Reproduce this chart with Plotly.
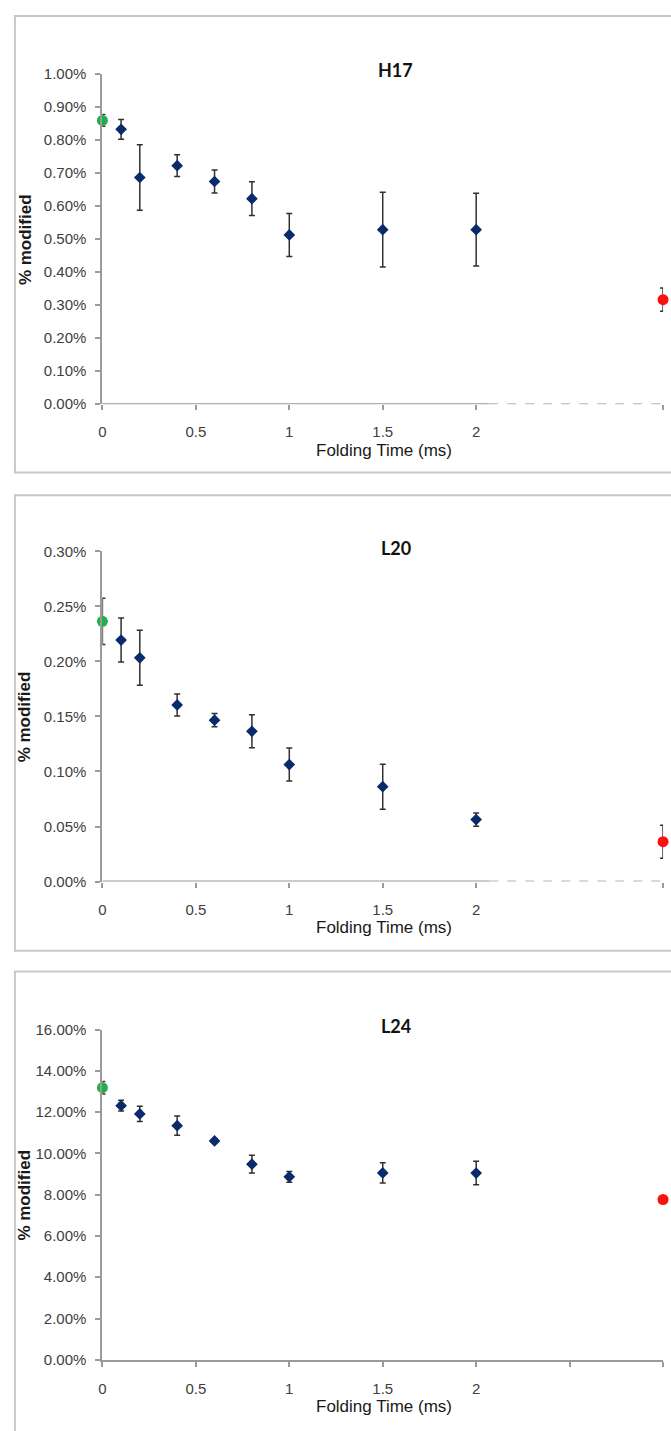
import plotly.graph_objects as go

# ---------------- data ----------------
panel_names = ["H17", "L20", "L24"]
fold_times = [0.1, 0.2, 0.4, 0.6, 0.8, 1.0, 1.5, 2.0]
start_time = [0]
end_time = [3]  # plotted position of the final (native) point

h17_vals = [0.833, 0.687, 0.723, 0.675, 0.623, 0.513, 0.529, 0.529]
h17_err = [0.030, 0.099, 0.033, 0.035, 0.051, 0.065, 0.113, 0.110]
h17_start = [0.860]
h17_start_err = [0.018]
h17_end = [0.317]
h17_end_err = [0.035]

l20_vals = [0.2195, 0.2033, 0.1605, 0.1467, 0.1365, 0.1063, 0.0862, 0.0563]
l20_err = [0.020, 0.025, 0.010, 0.006, 0.015, 0.015, 0.0205, 0.006]
l20_start = [0.2365]
l20_start_err = [0.021]
l20_end = [0.0362]
l20_end_err = [0.015]

l24_vals = [12.32, 11.92, 11.35, 10.61, 9.48, 8.87, 9.06, 9.05]
l24_err = [0.26, 0.37, 0.47, 0.10, 0.43, 0.26, 0.49, 0.57]
l24_start = [13.19]
l24_start_err = [0.30]
l24_end = [7.77]
l24_end_err = [0.08]

y_max = [1.0, 0.30, 16.0]
y_step = [0.1, 0.05, 2.0]
x_tickvals = [0, 0.5, 1, 1.5, 2, 2.5, 3]
x_ticktext = ["0", "0.5", "1", "1.5", "2", "", ""]

series = [
    (h17_vals, h17_err, h17_start, h17_start_err, h17_end, h17_end_err),
    (l20_vals, l20_err, l20_start, l20_start_err, l20_end, l20_end_err),
    (l24_vals, l24_err, l24_start, l24_start_err, l24_end, l24_end_err),
]

# ---------------- layout geometry (pixels) ----------------
W, H = 671, 1431
plot_left, plot_right = 99, 663
panels_px = [  # (plot top, plot bottom, border top, border bottom)
    (66, 400, 7, 469),
    (549, 883, 492, 953),
    (1033, 1367, 974, 1440),
]


def px_x(p):
    return p / W


def px_y(p):
    return 1 - p / H


AXIS_GRAY = "#9a9a9a"
TICK_FONT = dict(family="Liberation Sans, Arial", size=15, color="#404040")
ERR_COLOR = "#303030"

fig = go.Figure()
layout = dict(
    width=W, height=H, margin=dict(l=0, r=0, t=0, b=0),
    paper_bgcolor="white", plot_bgcolor="white", showlegend=False,
    shapes=[], annotations=[],
)

for i, (vals, err, s, se, e, ee) in enumerate(series):
    xa = "x" if i == 0 else f"x{i+1}"
    ya = "y" if i == 0 else f"y{i+1}"
    xkey = "xaxis" if i == 0 else f"xaxis{i+1}"
    ykey = "yaxis" if i == 0 else f"yaxis{i+1}"
    top, bot, btop, bbot = panels_px[i]

    err_style = dict(type="data", visible=True, color=ERR_COLOR, thickness=1.5, width=3)
    fig.add_trace(go.Scatter(
        x=fold_times, y=vals, mode="markers", xaxis=xa, yaxis=ya,
        marker=dict(symbol="diamond", size=9, color="#0a2a6b"),
        error_y=dict(array=err, **err_style), cliponaxis=False))
    fig.add_trace(go.Scatter(
        x=start_time, y=s, mode="markers", xaxis=xa, yaxis=ya,
        marker=dict(symbol="circle", size=11, color="#1fb04a"),
        error_y=dict(array=se, **err_style), cliponaxis=False))
    fig.add_trace(go.Scatter(
        x=end_time, y=e, mode="markers", xaxis=xa, yaxis=ya,
        marker=dict(symbol="circle", size=11, color="#ff1010"),
        error_y=dict(array=ee, **err_style), cliponaxis=False))

    ntick = int(round(y_max[i] / y_step[i]))
    yticks = [k * y_step[i] for k in range(ntick + 1)]
    ytext = [f"{v:.2f}%" for v in yticks]

    full_line = (i == 2)
    layout[xkey] = dict(
        domain=[px_x(plot_left), px_x(plot_right)], range=[0, 3],
        anchor=ya, showgrid=False, zeroline=False,
        showline=full_line, linecolor=AXIS_GRAY, linewidth=2,
        tickmode="array",
        tickvals=x_tickvals if full_line else x_tickvals[:5] + [3],
        ticktext=x_ticktext if full_line else x_ticktext[:5] + [""],
        ticks="outside", ticklen=5, tickcolor=AXIS_GRAY, tickwidth=1.5,
        tickfont=TICK_FONT, ticklabelstandoff=9, fixedrange=True,
    )
    layout[ykey] = dict(
        domain=[px_y(bot), px_y(top)], range=[0, y_max[i]],
        anchor=xa, showgrid=False, zeroline=False,
        showline=True, linecolor=AXIS_GRAY, linewidth=2,
        tickmode="array", tickvals=yticks, ticktext=ytext,
        ticks="outside", ticklen=5, tickcolor=AXIS_GRAY, tickwidth=1.5,
        tickfont=TICK_FONT, ticklabelstandoff=6, fixedrange=True,
    )

    if not full_line:
        layout["shapes"].append(dict(
            type="line", xref=xa, yref=ya, x0=0, x1=2.07, y0=0, y1=0,
            line=dict(color=AXIS_GRAY, width=2)))
        layout["shapes"].append(dict(
            type="line", xref=xa, yref=ya, x0=2.07, x1=3, y0=0, y1=0,
            line=dict(color="#b5b5b5", width=2, dash="dash")))

    # panel border
    layout["shapes"].append(dict(
        type="rect", xref="paper", yref="paper",
        x0=px_x(11), x1=px_x(W + 10), y0=px_y(bbot), y1=px_y(btop),
        line=dict(color="#c8c8c8", width=2), fillcolor="rgba(0,0,0,0)", layer="below"))

    # panel title
    layout["annotations"].append(dict(
        text=f"<b>{panel_names[i]}</b>", xref="paper", yref="paper",
        x=px_x(394), y=px_y(top - 4), xanchor="center", yanchor="middle",
        showarrow=False, font=dict(family="Lato, Open Sans", size=18, color="#111111")))
    # x axis title
    layout["annotations"].append(dict(
        text="Folding Time (ms)", xref="paper", yref="paper",
        x=px_x(382), y=px_y(bot + 47), xanchor="center", yanchor="middle",
        showarrow=False, font=dict(family="Liberation Sans, Arial", size=17, color="#1a1a1a")))
    # y axis title
    layout["annotations"].append(dict(
        text="<b>% modified</b>", xref="paper", yref="paper",
        x=px_x(21), y=px_y((top + bot) / 2), xanchor="center", yanchor="middle",
        textangle=-90, showarrow=False,
        font=dict(family="Liberation Sans, Arial", size=17, color="#1a1a1a")))

fig.update_layout(**layout)
fig.write_html(
    "out.html",
    config={"displayModeBar": False},
    post_script="document.body.style.margin='0';document.body.style.overflow='hidden';",
)
